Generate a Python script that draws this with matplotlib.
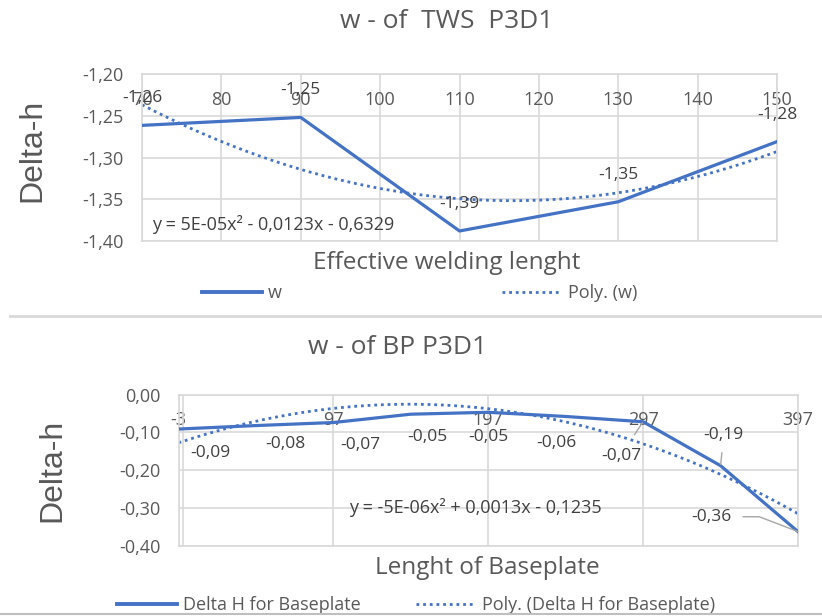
import matplotlib
matplotlib.use("Agg")
import matplotlib.pyplot as plt
import numpy as np
from matplotlib.lines import Line2D
from matplotlib.ticker import FuncFormatter

# ---- data: welded seam (TWS) ----
tws_length = np.array([70, 90, 110, 130, 150])
tws_delta_h = np.array([-1.26152, -1.252, -1.388, -1.353, -1.281])
tws_xticks = [70, 80, 90, 100, 110, 120, 130, 140, 150]
tws_yticks = [-1.40, -1.35, -1.30, -1.25, -1.20]

# ---- data: baseplate (BP) ----
bp_length = np.array([-3, 47, 97, 147, 197, 247, 297, 347, 397])
bp_delta_h = np.array([-0.0912, -0.082, -0.074, -0.052, -0.047, -0.058, -0.072, -0.188, -0.362])
bp_xticks = [-3, 97, 197, 297, 397]
bp_yticks = [-0.40, -0.30, -0.20, -0.10, 0.00]

W, H = 822, 616
BLUE = "#4472C4"
GRID = "#D9D9D9"
TXT = "#595959"
LBL = "#404040"
FONT = ["Open Sans", "DejaVu Sans"]
plt.rcParams["font.family"] = FONT

fig = plt.figure(figsize=(W / 100, H / 100), dpi=100)


def px_axes(left, top, right, bottom):
    return fig.add_axes([left / W, 1 - bottom / H, (right - left) / W, (bottom - top) / H])


def comma(v, nd=2):
    return f"{v:.{nd}f}".replace(".", ",")


def poly_label(c):
    a2, a1, a0 = c
    s = f"y = {a2:.0E}x\u00b2 {'+' if a1 >= 0 else '-'} {abs(a1):.4f}x {'+' if a0 >= 0 else '-'} {abs(a0):.4f}"
    return s.replace(".", ",")


def style_axes(ax, xticks, yticks):
    ax.set_xticks(xticks)
    ax.set_yticks(yticks)
    ax.set_xlim(xticks[0], xticks[-1])
    ax.set_ylim(yticks[0], yticks[-1])
    ax.set_facecolor("none")
    for s in ax.spines.values():
        s.set_color(GRID)
        s.set_linewidth(1.2)
    ax.grid(True, color=GRID, lw=1.2)
    ax.set_axisbelow(True)
    ax.xaxis.tick_top()
    ax.tick_params(axis="both", length=0, labelsize=13, labelcolor=TXT)
    ax.tick_params(axis="y", pad=13.0)
    ax.tick_params(axis="x", pad=-18.7)
    ax.yaxis.set_major_formatter(FuncFormatter(lambda v, p: comma(v)))
    ax.xaxis.set_major_formatter(FuncFormatter(lambda v, p: f"{v:g}"))
    plt.setp(ax.get_xticklabels(), va="center")


def draw_series(ax, x, y):
    ax.plot(x, y, color=BLUE, lw=2.3, solid_joinstyle="round", zorder=3)
    coefs = np.polyfit(x, y, 2)
    xs = np.linspace(x.min(), x.max(), 300)
    ax.plot(xs, np.polyval(coefs, xs), color=BLUE, lw=2.0, ls=(0, (1, 1.4)), zorder=2)
    return coefs


def legend(ax, labels, center_x, y, spacing):
    handles = [Line2D([], [], color=BLUE, lw=2.8),
               Line2D([], [], color=BLUE, lw=2.0, ls=(0, (1, 1.4)))]
    ax.legend(handles, labels, loc="center", bbox_to_anchor=(center_x / W, 1 - y / H),
              bbox_transform=fig.transFigure, ncol=2, frameon=False, fontsize=13,
              labelcolor=TXT, handlelength=3.32, handletextpad=0.33, columnspacing=spacing,
              borderpad=0, borderaxespad=0)


# ================= top chart =================
ax1 = px_axes(142, 74, 777, 241)
style_axes(ax1, tws_xticks, tws_yticks)
c1 = draw_series(ax1, tws_length, tws_delta_h)
for xi, yi in zip(tws_length, tws_delta_h):
    ax1.annotate(comma(yi), (xi, yi), xytext=(0, 19.4), textcoords="offset points",
                 ha="center", va="center", fontsize=12.5, color=LBL, annotation_clip=False, zorder=5)
ax1.text(0.016, 0.096, poly_label(c1), transform=ax1.transAxes, fontsize=13,
         color=LBL, ha="left", va="center")
fig.text(447 / W, 1 - 22 / H, "w - of  TWS  P3D1", ha="center", va="center", fontsize=19, color=TXT)
fig.text(32 / W, 1 - 150 / H, "Delta-h", rotation=90, ha="center", va="center", fontsize=23,
         color=TXT, family=["Liberation Sans", "DejaVu Sans"])
fig.text(447 / W, 1 - 263 / H, "Effective welding lenght", ha="center", va="center",
         fontsize=17.5, color=TXT)
legend(ax1, ["w", "Poly. (w)"], 420, 293, 12.2)

# separator lines between the two panels
fig.add_artist(Line2D([10 / W, 1], [1 - 316 / H] * 2, transform=fig.transFigure, color=GRID, lw=2))
fig.add_artist(Line2D([0, 1], [1 - 614 / H] * 2, transform=fig.transFigure, color="#BFBFBF", lw=1.5))

# ================= bottom chart =================
ax2 = px_axes(178.5, 394.5, 798, 546)
style_axes(ax2, bp_xticks, bp_yticks)
ax2.axvline(0, color=GRID, lw=1.2, zorder=1)
c2 = draw_series(ax2, bp_length, bp_delta_h)

# label placement (points) for each value
bp_label_offsets = [(22.7, -17.2), (20.9, -13.3), (19.2, -16.2), (12.2, -16.6), (-0.2, -18),
                    (-6.6, -19.3), (-15.5, -24.6), (1.7, 22.1), (-62.1, 10.7)]
for i, (xi, yi) in enumerate(zip(bp_length, bp_delta_h)):
    dx, dy = bp_label_offsets[i]
    kw = {}
    if i == 6:
        kw = dict(arrowprops=dict(arrowstyle="-", color="#A6A6A6", lw=1, shrinkA=9, shrinkB=1,
                                  relpos=(0.6, 1.0)))
    elif i == 7:
        kw = dict(arrowprops=dict(arrowstyle="-", color="#A6A6A6", lw=1, shrinkA=5, shrinkB=1,
                                  relpos=(0.5, 0.0)))
    elif i == 8:
        kw = dict(arrowprops=dict(arrowstyle="-", color="#A6A6A6", lw=1, shrinkA=6, shrinkB=0,
                                  relpos=(1.0, 0.5),
                                  connectionstyle="angle,angleA=0,angleB=-21,rad=0"))
    ax2.annotate(comma(yi), (xi, yi), xytext=(dx, dy), textcoords="offset points",
                 ha="center", va="center", fontsize=12.5, color=LBL, annotation_clip=False,
                 zorder=5, **kw)
ax2.text(0.479, 0.257, poly_label(c2), transform=ax2.transAxes, fontsize=13,
         color=LBL, ha="center", va="center")
fig.text(398 / W, 1 - 348 / H, "w - of BP P3D1", ha="center", va="center", fontsize=19, color=TXT)
fig.text(52 / W, 1 - 470 / H, "Delta-h", rotation=90, ha="center", va="center", fontsize=23,
         color=TXT, family=["Liberation Sans", "DejaVu Sans"])
fig.text(487 / W, 1 - 568 / H, "Lenght of Baseplate", ha="center", va="center",
         fontsize=17.5, color=TXT)
legend(ax2, ["Delta H for Baseplate", "Poly. (Delta H for Baseplate)"], 416, 605, 3.05)

fig.savefig("out.png", dpi=100, facecolor="white")
